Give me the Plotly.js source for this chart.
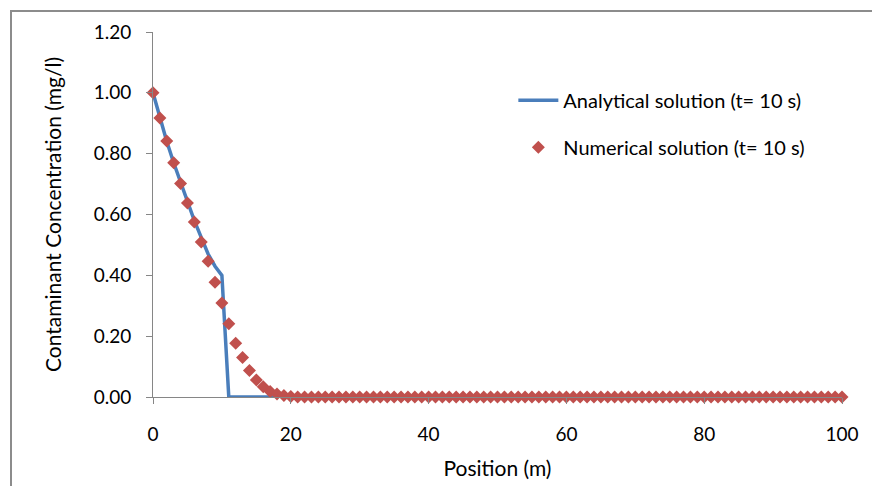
<!DOCTYPE html>
<html>
<head>
<meta charset="utf-8">
<script src="https://cdn.plot.ly/plotly-3.0.1.min.js"></script>
<style>
html,body{margin:0;padding:0;background:#fff;}
#wrap{position:relative;width:872px;height:486px;overflow:hidden;}
#frame{position:absolute;left:10px;top:10px;width:900px;height:600px;border-top:2px solid #8c8c8c;border-left:2px solid #8c8c8c;box-sizing:border-box;pointer-events:none;}
#chart{position:absolute;left:0;top:0;width:872px;height:486px;}
</style>
</head>
<body>
<div id="wrap">
<div id="chart"></div>
<div id="frame"></div>
</div>
<script>
// Analytical solution (t = 10 s)
var analyticalX = [0,1,2,3,4,5,6,7,8,9,10,11,100];
var analyticalY = [1.00,0.915,0.84,0.77,0.705,0.64,0.58,0.525,0.47,0.43,0.40,0.00,0.00];

// Numerical solution (t = 10 s), one point per metre 0..100
var numericalHead = [1.00,0.917,0.842,0.770,0.702,0.638,0.575,0.510,0.446,0.377,0.309,0.241,0.177,0.130,0.087,0.056,0.034,0.018,0.010,0.005,0.002];
var numericalX = [];
var numericalY = [];
for (var i = 0; i <= 100; i++) {
  numericalX.push(i);
  numericalY.push(i < numericalHead.length ? numericalHead[i] : 0.0);
}

var yTickVals = [0,0.2,0.4,0.6,0.8,1.0,1.2];
var yTickText = ['0.00','0.20','0.40','0.60','0.80','1.00','1.20'];
var xTickVals = [0,20,40,60,80,100];

var seriesNames = ['Analytical solution (t= 10 s)', 'Numerical solution (t= 10 s)'];
var xTitle = 'Position (m)';
var yTitle = 'Contaminant Concentration (mg/l)';

var fam = 'Lato, "Open Sans", sans-serif';
var tickFont = {family: fam, size: 19, color: '#000'};
var titleFont = {family: fam, size: 21, color: '#000'};
var legendFont = {family: fam, size: 20, color: '#000'};

var traces = [
  {
    x: analyticalX, y: analyticalY, name: seriesNames[0],
    type: 'scatter', mode: 'lines',
    line: {color: '#4a7ebb', width: 3.5},
    legend: 'legend', cliponaxis: false
  },
  {
    x: numericalX, y: numericalY, name: seriesNames[1],
    type: 'scatter', mode: 'markers',
    marker: {symbol: 'diamond', size: 10, color: '#c0504d'},
    legend: 'legend2', cliponaxis: false
  }
];

var axisCommon = {
  showgrid: false, zeroline: false, showline: true,
  linecolor: '#868686', linewidth: 1,
  ticks: 'outside', ticklen: 6, tickcolor: '#868686', tickwidth: 1,
  tickfont: tickFont
};

var layout = {
  width: 872, height: 486,
  paper_bgcolor: '#fff', plot_bgcolor: '#fff',
  margin: {l: 153, r: 30, t: 32, b: 89},
  font: tickFont,
  xaxis: Object.assign({}, axisCommon, {
    range: [0, 100], tickvals: xTickVals, ticktext: xTickVals.map(String),
    ticklabelstandoff: 14,
    title: {text: xTitle, font: titleFont, standoff: 17}
  }),
  yaxis: Object.assign({}, axisCommon, {
    range: [0, 1.2], tickvals: yTickVals, ticktext: yTickText,
    ticklabelstandoff: 11,
    title: {text: yTitle, font: titleFont, standoff: 26}
  }),
  showlegend: true,
  legend: {
    x: 0.523, y: 0.813, xanchor: 'left', yanchor: 'middle',
    bgcolor: 'rgba(0,0,0,0)', font: legendFont, itemwidth: 40
  },
  legend2: {
    x: 0.523, y: 0.684, xanchor: 'left', yanchor: 'middle',
    bgcolor: 'rgba(0,0,0,0)', font: legendFont, itemwidth: 40
  }
};

Plotly.newPlot('chart', traces, layout, {displayModeBar: false, staticPlot: true});
</script>
</body>
</html>
